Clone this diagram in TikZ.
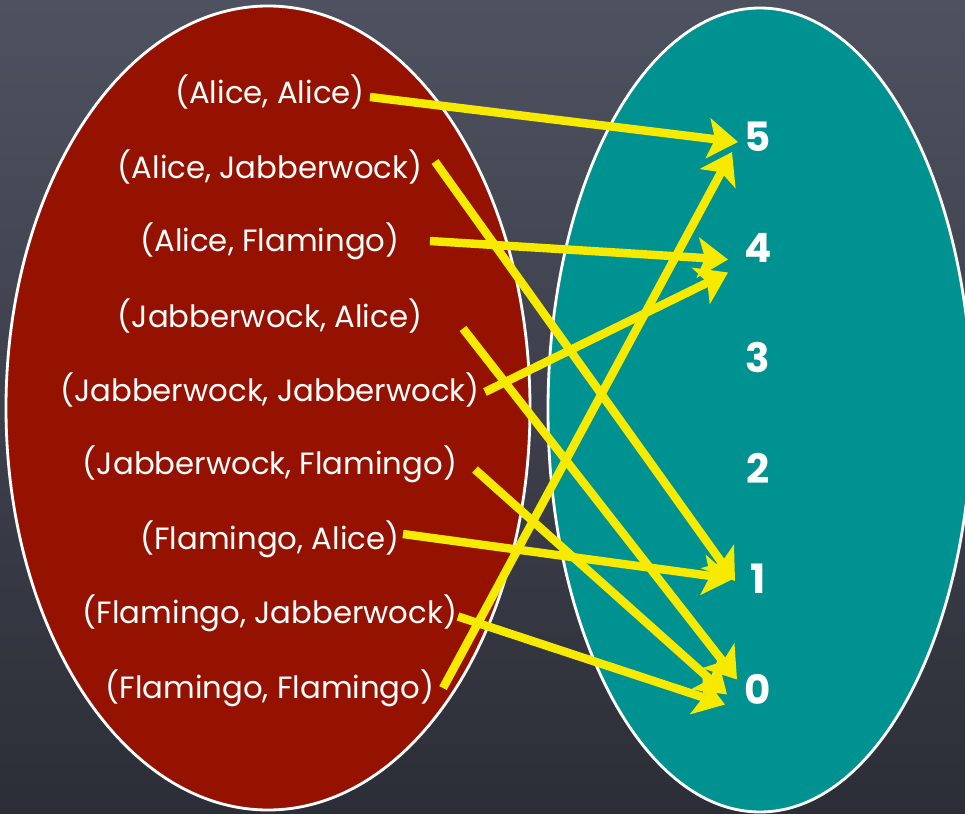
\documentclass[tikz,border=0pt]{standalone}
\usepackage{fontspec}
\setmainfont{Poppins}
\usetikzlibrary{arrows.meta,positioning}

\definecolor{boardtop}{RGB}{78,82,96}
\definecolor{boardbot}{RGB}{44,46,55}
\definecolor{domred}{RGB}{150,18,0}
\definecolor{codteal}{RGB}{0,146,144}
\definecolor{mapyellow}{RGB}{246,234,0}

\begin{document}
\begin{tikzpicture}[
    node distance=1.49cm, on grid,
    every node/.style={text=white},
    pair/.style={font=\fontsize{17.5}{20}\selectfont},
    num/.style={font=\fontsize{23}{26}\selectfont\bfseries},
    set/.style={draw=white, line width=1.6pt},
    map/.style={-{Stealth[length=6mm, width=8mm, inset=1.4mm]}, line width=4.8pt, draw=mapyellow}
]
\useasboundingbox (0,0) rectangle (19.3,-16.28);
\shade[top color=boardtop, bottom color=boardbot] (0,0) rectangle (19.3,-16.28);

% the two sets
\draw[set, fill=domred] (5.36,-8.16) ellipse (5.24cm and 8.04cm);
\draw[set, fill=codteal] (15.2,-8.2) ellipse (4.24cm and 8.04cm);

% domain: pairs
\node[pair] (aa) at (5.4,-1.84) {(Alice, Alice)};
\node[pair, below=of aa] (aj) {(Alice, Jabberwock)};
\node[pair, below=of aj] (af) {(Alice, Flamingo)};
\node[pair, below=of af] (ja) {(Jabberwock, Alice)};
\node[pair, below=of ja] (jj) {(Jabberwock, Jabberwock)};
\node[pair, below=of jj] (jf) {(Jabberwock, Flamingo)};
\node[pair, below=of jf] (fa) {(Flamingo, Alice)};
\node[pair, below=of fa] (fj) {(Flamingo, Jabberwock)};
\node[pair, below=of fj] (ff) {(Flamingo, Flamingo)};

% codomain: numbers
\node[num] (n5) at (15.16,-2.74) {5};
\node[num, below=2.21cm of n5] (n4) {4};
\node[num, below=2.21cm of n4] (n3) {3};
\node[num, below=2.21cm of n3] (n2) {2};
\node[num, below=2.21cm of n2] (n1) {1};
\node[num, below=2.21cm of n1] (n0) {0};

% the mapping
\draw[map] ([shift={(2.0,-0.1)}]aa.center) -- ([shift={(-0.4,-0.1)}]n5.center);
\draw[map] ([shift={(3.3,0.1)}]aj.center) -- ([shift={(-0.46,-0.04)}]n1.center);
\draw[map] ([shift={(3.2,0)}]af.center) -- ([shift={(-0.6,-0.24)}]n4.center);
\draw[map] ([shift={(3.86,-0.26)}]ja.center) -- ([shift={(-0.42,0.2)}]n0.center);
\draw[map] ([shift={(4.3,-0.04)}]jj.center) -- ([shift={(-0.6,-0.5)}]n4.center);
\draw[map] ([shift={(4.1,-0.1)}]jf.center) -- ([shift={(-0.62,-0.1)}]n0.center);
\draw[map] ([shift={(2.66,0.1)}]fa.center) -- ([shift={(-0.5,0)}]n1.center);
\draw[map] ([shift={(3.76,-0.06)}]fj.center) -- ([shift={(-0.66,-0.3)}]n0.center);
\draw[map] ([shift={(3.46,0)}]ff.center) -- ([shift={(-0.52,-0.3)}]n5.center);
\end{tikzpicture}
\end{document}
